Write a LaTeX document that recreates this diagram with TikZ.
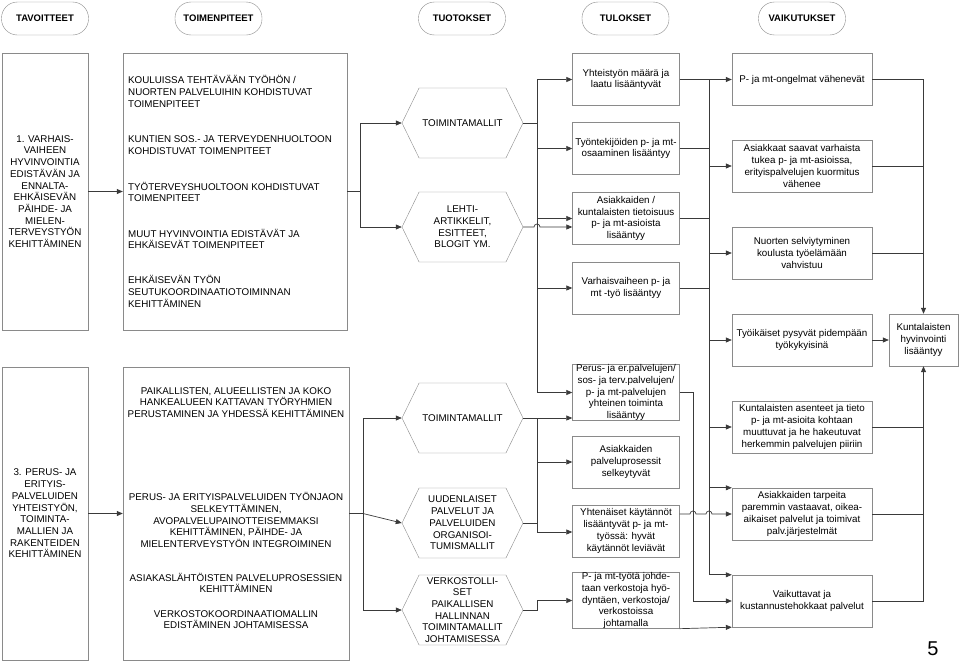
\documentclass[tikz,border=0pt]{standalone}
\usepackage{fontspec}
\setmainfont{Liberation Sans}
\usepackage{xcolor}
\definecolor{edge}{HTML}{8A8A8A}
\definecolor{wire}{HTML}{3A3A3A}
\usetikzlibrary{arrows.meta,shapes.symbols}

\begin{document}
\begin{tikzpicture}[x=1pt, y=-1pt,
  every node/.style={font=\fontsize{9.8}{11.7}\selectfont},
  pill/.style={draw=edge, rounded corners=16pt, minimum width=87pt, minimum height=33pt,
               inner sep=0pt, font=\fontsize{9.5}{11}\selectfont\bfseries},
  goal/.style={draw=edge, minimum width=86pt, align=center, inner sep=0pt},
  plan/.style={draw=edge, inner sep=0pt},
  ltxt/.style={align=left, anchor=west, inner sep=0pt},
  ctxt/.style={align=center, inner sep=0pt},
  hexa/.style={draw=edge, signal, signal to=east and west, signal pointer angle=128,
               minimum width=121pt, minimum height=70pt, inner sep=0pt, align=center},
  res/.style={draw=edge, minimum width=107pt, minimum height=52pt, inner sep=0pt, align=center},
  eff/.style={draw=edge, minimum width=140pt, minimum height=52pt, inner sep=0pt, align=center},
  arr/.style={-{Triangle[length=6pt,width=5pt]}, line width=0.7pt, color=wire},
  ln/.style={line width=0.7pt, color=wire}
]
\useasboundingbox (0,0) rectangle (960,664);

% otsikot
\node[pill] (hTav) at (45,18.5) {TAVOITTEET};
\node[pill] (hToim) at (218.5,18.5) {TOIMENPITEET};
\node[pill] (hTuot) at (462,18.5) {TUOTOKSET};
\node[pill] (hTul) at (625.5,18.5) {TULOKSET};
\node[pill] (hVaik) at (802,18.5) {VAIKUTUKSET};

% tavoitteet
\node[goal, minimum height=277pt] (g1) at (45,191.5) {1. VARHAIS-\\VAIHEEN\\HYVINVOINTIA\\EDISTÄVÄN JA\\ENNALTA-\\EHKÄISEVÄN\\PÄIHDE- JA\\MIELEN-\\TERVEYSTYÖN\\KEHITTÄMINEN};
\node[goal, minimum height=293pt] (g3) at (45,513.5) {3. PERUS- JA\\ERITYIS-\\PALVELUIDEN\\YHTEISTYÖN,\\TOIMINTA-\\MALLIEN JA\\RAKENTEIDEN\\KEHITTÄMINEN};

% toimenpiteet
\node[plan, minimum width=224pt, minimum height=277pt] (act1) at (235,191.5) {};
\node[ltxt] (a1t1) at (128,91.5) {KOULUISSA TEHTÄVÄÄN TYÖHÖN /\\NUORTEN PALVELUIHIN KOHDISTUVAT\\TOIMENPITEET};
\node[ltxt] (a1t2) at (128,145) {KUNTIEN SOS.- JA TERVEYDENHUOLTOON\\KOHDISTUVAT TOIMENPITEET};
\node[ltxt] (a1t3) at (128,192) {TYÖTERVEYSHUOLTOON KOHDISTUVAT\\TOIMENPITEET};
\node[ltxt] (a1t4) at (128,239) {MUUT HYVINVOINTIA EDISTÄVÄT JA\\EHKÄISEVÄT TOIMENPITEET};
\node[ltxt] (a1t5) at (128,291.5) {EHKÄISEVÄN TYÖN\\SEUTUKOORDINAATIOTOIMINNAN\\KEHITTÄMINEN};

\node[plan, minimum width=226pt, minimum height=293pt] (act2) at (236,513.5) {};
\node[ctxt] (a2t1) at (236,402.5) {PAIKALLISTEN, ALUEELLISTEN JA KOKO\\HANKEALUEEN KATTAVAN TYÖRYHMIEN\\PERUSTAMINEN JA YHDESSÄ KEHITTÄMINEN};
\node[ctxt] (a2t2) at (236,520) {PERUS- JA ERITYISPALVELUIDEN TYÖNJAON\\SELKEYTTÄMINEN,\\AVOPALVELUPAINOTTEISEMMAKSI\\KEHITTÄMINEN, PÄIHDE- JA\\MIELENTERVEYSTYÖN INTEGROIMINEN};
\node[ctxt] (a2t3) at (236,583) {ASIAKASLÄHTÖISTEN PALVELUPROSESSIEN\\KEHITTÄMINEN};
\node[ctxt] (a2t4) at (236,619.5) {VERKOSTOKOORDINAATIOMALLIN\\EDISTÄMINEN JOHTAMISESSA};

% tuotokset
\node[hexa] (hexA) at (462.5,123) {TOIMINTAMALLIT};
\node[hexa] (hexB) at (462.5,227) {LEHTI-\\ARTIKKELIT,\\ESITTEET,\\BLOGIT YM.};
\node[hexa] (hexC) at (462.5,418) {TOIMINTAMALLIT};
\node[hexa] (hexD) at (462.5,523) {UUDENLAISET\\PALVELUT JA\\PALVELUIDEN\\ORGANISOI-\\TUMISMALLIT};
\node[hexa] (hexE) at (462.5,610) {VERKOSTOLLI-\\SET\\PAIKALLISEN\\HALLINNAN\\TOIMINTAMALLIT\\JOHTAMISESSA};

% tulokset
\node[res] (tYht) at (626,79.5) {Yhteistyön määrä ja\\laatu lisääntyvät};
\node[res] (tTyo) at (626,148.5) {Työntekijöiden p- ja mt-\\osaaminen lisääntyy};
\node[res] (tAsi) at (626,218.5) {Asiakkaiden /\\kuntalaisten tietoisuus\\p- ja mt-asioista\\lisääntyy};
\node[res] (tVar) at (626,288) {Varhaisvaiheen p- ja\\mt -työ lisääntyy};
\node[res] (tPer) at (626,392.5) {Perus- ja er.palvelujen/\\sos- ja terv.palvelujen/\\p- ja mt-palvelujen\\yhteinen toiminta\\lisääntyy};
\node[res] (tPalv) at (626,462) {Asiakkaiden\\palveluprosessit\\selkeytyvät};
\node[res] (tYhten) at (626,531) {Yhtenäiset käytännöt\\lisääntyvät p- ja mt-\\työssä: hyvät\\käytännöt leviävät};
\node[res, minimum height=53pt] (tVerk) at (626,600.5) {P- ja mt-työtä johde-\\taan verkostoja hyö-\\dyntäen, verkostoja/\\verkostoissa\\johtamalla};

% vaikutukset
\node[eff] (vOng) at (802,79.5) {P- ja mt-ongelmat vähenevät};
\node[eff] (vAsi) at (802,166) {Asiakkaat saavat varhaista\\tukea p- ja mt-asioissa,\\erityispalvelujen kuormitus\\vähenee};
\node[eff] (vNuo) at (802,253) {Nuorten selviytyminen\\koulusta työelämään\\vahvistuu};
\node[eff] (vTyo) at (802,340) {Työikäiset pysyvät pidempään\\työkykyisinä};
\node[eff] (vKunt) at (802,427) {Kuntalaisten asenteet ja tieto\\p- ja mt-asioita kohtaan\\muuttuvat ja he hakeutuvat\\herkemmin palvelujen piiriin};
\node[eff] (vTarp) at (802,514) {Asiakkaiden tarpeita\\paremmin vastaavat, oikea-\\aikaiset palvelut ja toimivat\\palv.järjestelmät};
\node[eff] (vVaik) at (802,601) {Vaikuttavat ja\\kustannustehokkaat palvelut};
\node[draw=edge, minimum width=69pt, minimum height=52pt, inner sep=0pt, align=center] (kHyv) at (923.5,340) {Kuntalaisten\\hyvinvointi\\lisääntyy};

\node[font=\fontsize{20}{24}\selectfont] (pnum) at (933,649) {5};

% kokoojalinjat
\coordinate (bus1) at (360,0);
\coordinate (bus2) at (537,0);
\coordinate (bus3) at (709,0);
\coordinate (bus5) at (363,0);
\coordinate (bus6) at (693,0);

% ylempi osa
\draw[arr] (g1) -- (act1);
\draw[arr] (act1.east) -- (bus1 |- act1.east) |- (hexA.west);
\draw[arr] (bus1 |- act1.east) |- (hexB.west);

\draw[arr] (hexA.east) -- (bus2 |- hexA.east) |- (tYht.west);
\draw[arr] (bus2 |- hexA.east) |- (tTyo.west);
\draw[arr] (bus2 |- hexA.east) |- (tAsi.west);
\draw[arr] (bus2 |- hexA.east) |- (tVar.west);
\draw[arr] (bus2 |- hexA.east) |- (tPer.west);
\draw[arr] (hexB.east) -- ([xshift=-3pt]bus2 |- hexB.east) arc[start angle=180, end angle=0, radius=3pt]
  -- (tAsi.west |- hexB.east);

\draw[arr] (tYht.east) -- (vOng.west);
\draw[ln] (tTyo.east) -- (bus3 |- tTyo.east);
\draw[ln] (tAsi.east) -- (bus3 |- tAsi.east);
\draw[ln] (tVar.east) -- (bus3 |- tVar.east);
\draw[arr] (bus3 |- tYht.east) |- (vVaik.north west);
\draw[arr] (bus3 |- tYht.east) |- (vAsi.west);
\draw[arr] (bus3 |- tYht.east) |- (vNuo.west);
\draw[arr] (bus3 |- tYht.east) |- (vTyo.west);
\draw[arr] (bus3 |- tYht.east) |- (vKunt.west);
\draw[arr] (bus3 |- tYht.east) |- (vTarp.north west);

\draw[arr] (vOng.east) -| (kHyv.north);
\draw[ln] (vAsi.east) -- (vAsi.east -| kHyv.north);
\draw[ln] (vNuo.east) -- (vNuo.east -| kHyv.north);
\draw[arr] (vTyo.east) -- (kHyv.west);
\draw[arr] (vVaik.east) -| (kHyv.south);
\draw[ln] (vKunt.east) -- (vKunt.east -| kHyv.south);
\draw[ln] (vTarp.east) -- (vTarp.east -| kHyv.south);

% alempi osa
\draw[arr] (g3) -- (act2);
\draw[arr] (act2.east) -- (bus5 |- act2.east) |- (hexC.west);
\draw[arr] (bus5 |- act2.east) -- (hexD.west);
\draw[arr] (bus5 |- act2.east) |- (hexE.west);

\draw[arr] (hexC.east) -- (tPer.west |- hexC.east);
\draw[arr] (bus2 |- hexC.east) |- (tPalv.west);
\draw[arr] (bus2 |- hexC.east) |- ([yshift=-1pt]tYhten.west);
\draw[ln] (hexD.east) -- (bus2 |- hexD.east);
\draw[arr] (hexE.east) -- (bus2 |- hexE.east) |- (tVerk.west);

\draw[arr] (tPer.east) -- (bus6 |- tPer.east) |- (vVaik.west);
\draw[arr] (tYhten.east |- vTarp.west) -- ([xshift=-3pt]bus6 |- vTarp.west) arc[start angle=180, end angle=0, radius=3pt]
  -- ([xshift=-3pt]bus3 |- vTarp.west) arc[start angle=180, end angle=0, radius=3pt] -- (vTarp.west);
\draw[arr] (tVerk.south east) -- (vVaik.south west);
\end{tikzpicture}
\end{document}
